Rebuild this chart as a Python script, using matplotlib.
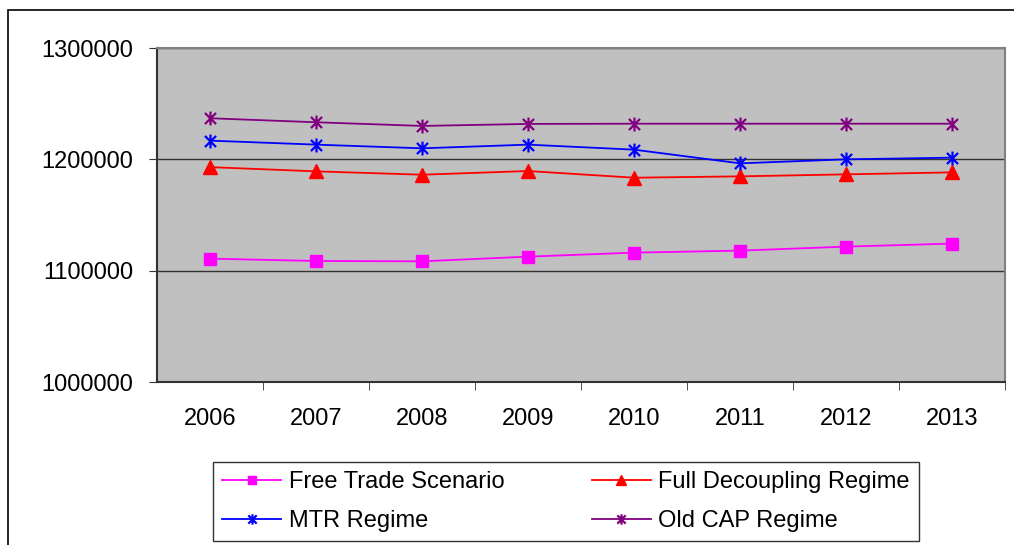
import matplotlib.pyplot as plt
from matplotlib.path import Path
from matplotlib.patches import Rectangle

plt.rcParams['font.family'] = ['Liberation Sans', 'DejaVu Sans']

# -------------------------------
# Data
# -------------------------------
years = ['2006', '2007', '2008', '2009', '2010', '2011', '2012', '2013']
free_trade = [1110800, 1108700, 1108400, 1112600, 1116200, 1118000, 1121600, 1124300]
full_decoupling = [1193000, 1189200, 1186200, 1189500, 1183500, 1184700, 1186500, 1188300]
mtr = [1216800, 1213200, 1209900, 1213200, 1208700, 1196400, 1200000, 1201500]
old_cap = [1236900, 1233300, 1230000, 1231800, 1232000, 1232000, 1232000, 1232000]
y_ticks = [1000000, 1100000, 1200000, 1300000]

# asterisk marker: vertical bar plus an X
star = Path([(0, -1), (0, 1), (-0.8, -0.8), (0.8, 0.8), (-0.8, 0.8), (0.8, -0.8)],
            [Path.MOVETO, Path.LINETO] * 3)

# -------------------------------
# Plot
# -------------------------------
fig = plt.figure(figsize=(10.14, 5.45), dpi=100)
ax = fig.add_axes([157 / 1014, 1 - 382 / 545, (1005 - 157) / 1014, (382 - 48) / 545])
ax.set_facecolor('#C0C0C0')

x = range(len(years))
l_free, = ax.plot(x, free_trade, color='#FF00FF', marker='s', markersize=8.5, lw=1.3,
                  label='Free Trade Scenario')
l_full, = ax.plot(x, full_decoupling, color='#FF0000', marker='^', markersize=10.5, lw=1.3,
                  label='Full Decoupling Regime')
l_mtr, = ax.plot(x, mtr, color='#0000FF', marker=star, markersize=10, markeredgewidth=1.6,
                 lw=1.3, label='MTR Regime')
l_old, = ax.plot(x, old_cap, color='#800080', marker=star, markersize=10, markeredgewidth=1.6,
                 lw=1.3, label='Old CAP Regime')

ax.set_xlim(-0.5, len(years) - 0.5)
ax.set_ylim(1000000, 1300000)
ax.set_yticks(y_ticks)
ax.set_yticklabels([str(v) for v in y_ticks])
ax.set_xticks(list(x))
ax.set_xticklabels(years)
ax.set_xticks([i + 0.5 for i in range(len(years))], minor=True)
ax.tick_params(axis='x', which='major', length=0, pad=19, labelsize=17)
ax.tick_params(axis='x', which='minor', length=6, direction='out', color='#333333')
ax.tick_params(axis='y', length=6, direction='out', pad=11, labelsize=17, color='#333333')

ax.grid(axis='y', color='#333333', lw=1)
ax.set_axisbelow(True)
ax.spines['top'].set_color('#808080')
ax.spines['top'].set_linewidth(1.5)
ax.spines['right'].set_color('#808080')
ax.spines['right'].set_linewidth(1.5)
ax.spines['left'].set_color('#333333')
ax.spines['left'].set_linewidth(1.5)
ax.spines['bottom'].set_color('#333333')
ax.spines['bottom'].set_linewidth(1.5)

# legend box below the axes (row order: free, full / mtr, old)
leg = fig.legend([l_free, l_mtr, l_full, l_old],
                 [l_free.get_label(), l_mtr.get_label(), l_full.get_label(), l_old.get_label()],
                 loc='upper left', bbox_to_anchor=(213 / 1014, 1 - 462 / 545),
                 ncol=2, fontsize=17, frameon=True, fancybox=False,
                 edgecolor='black', handlelength=2.5, markerscale=0.75,
                 labelspacing=0.7, borderpad=0.4, handletextpad=0.3,
                 columnspacing=3.7, borderaxespad=0)
leg.get_frame().set_linewidth(1)

# outer chart border
fig.patches.append(Rectangle((8 / 1014, -0.01), 1.0, 1.01 - 10 / 545,
                             transform=fig.transFigure, fill=False,
                             edgecolor='black', lw=1.2))

fig.savefig('out.png', dpi=100)
